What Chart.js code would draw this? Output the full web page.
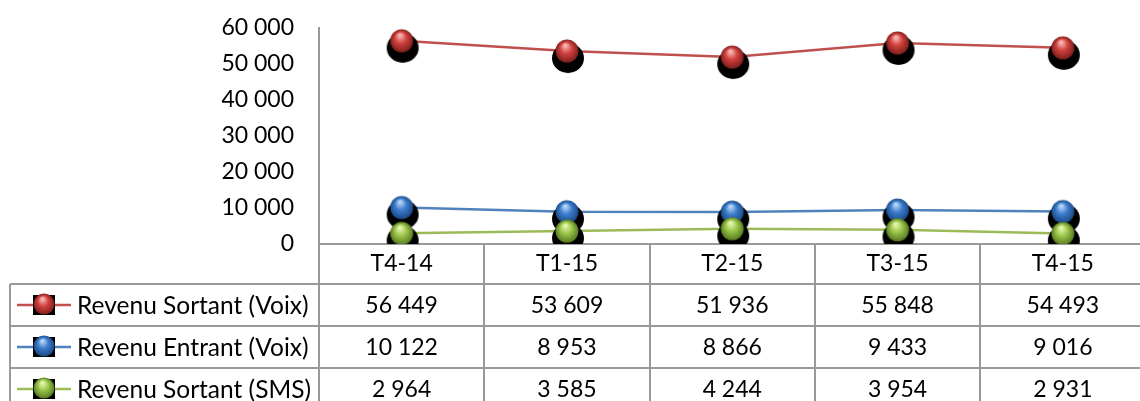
<!DOCTYPE html>
<html>
<head>
<meta charset="utf-8">
<script src="https://cdn.jsdelivr.net/npm/chart.js@4/dist/chart.umd.min.js"></script>
<style>
    html, body { margin: 0; padding: 0; background: #fff; overflow: hidden; }
    #wrap { width: 1140px; height: 401px; overflow: hidden; }
</style>
</head>
<body>
<div id="wrap"><canvas id="chart" width="1160" height="401"></canvas></div>
<script>
const categories = ['T4-14', 'T1-15', 'T2-15', 'T3-15', 'T4-15'];
const sortantVoix = [56449, 53609, 51936, 55848, 54493];
const entrantVoix = [10122, 8953, 8866, 9433, 9016];
const sortantSms = [2964, 3585, 4244, 3954, 2931];
const seriesNames = ['Revenu Sortant (Voix)', 'Revenu Entrant (Voix)', 'Revenu Sortant (SMS)'];
const yTicks = [0, 10000, 20000, 30000, 40000, 50000, 60000];

const FONT = 'Lato';
const FONT_SIZE = 23;
const LABEL_SIZE = 24.5;
const GRID = '#999999';

const palette = [
    { line: '#C0504D', hi: '#f6b3b1', mid: '#d2423e', lo: '#7e1f1c' },
    { line: '#4F81BD', hi: '#b5d5f5', mid: '#3c7dcc', lo: '#1b4a86' },
    { line: '#9BBB59', hi: '#e3f5ae', mid: '#9cc64a', lo: '#587b22' }
];

function fmt(v) {
    return String(v).replace(/\B(?=(\d{3})+(?!\d))/g, ' ');
}

function drawSphere(ctx, cx, cy, r, c) {
    const g = ctx.createRadialGradient(cx - r * 0.15, cy - r * 0.5, r * 0.1, cx, cy, r);
    g.addColorStop(0, c.hi);
    g.addColorStop(0.45, c.mid);
    g.addColorStop(1, c.lo);
    ctx.fillStyle = g;
    ctx.beginPath();
    ctx.arc(cx, cy, r, 0, Math.PI * 2);
    ctx.fill();
}

// marker image: sphere centred, black blob shadow below it
function makeMarker(c) {
    const cv = document.createElement('canvas');
    cv.width = 44;
    cv.height = 60;
    const ctx = cv.getContext('2d');
    ctx.fillStyle = '#000';
    ctx.beginPath();
    ctx.ellipse(23, 37, 16, 15, 0, 0, Math.PI * 2);
    ctx.fill();
    drawSphere(ctx, 22, 30, 11.5, c);
    return cv;
}

const markers = palette.map(makeMarker);

const dataTable = {
    id: 'dataTable',
    afterDraw(chart) {
        const ctx = chart.ctx;
        const xs = chart.scales.x;
        const area = chart.chartArea;
        const colW = (xs.right - xs.left) / categories.length;
        const rows = [sortantVoix, entrantVoix, sortantSms];
        const top = area.bottom;
        const headerH = 40;
        const rowH = 42;
        const tableLeft = 10;
        const bottom = chart.height;

        ctx.save();
        ctx.strokeStyle = GRID;
        ctx.lineWidth = 2;

        // vertical column lines
        for (let i = 0; i <= categories.length; i++) {
            const x = Math.round(xs.left + i * colW);
            ctx.beginPath();
            ctx.moveTo(x, top);
            ctx.lineTo(x, bottom);
            ctx.stroke();
        }
        // row lines
        for (let r = 0; r <= rows.length; r++) {
            const y = Math.round(top + headerH + r * rowH);
            ctx.beginPath();
            ctx.moveTo(tableLeft, y);
            ctx.lineTo(chart.width, y);
            ctx.stroke();
        }
        ctx.beginPath();
        ctx.moveTo(tableLeft, top + headerH);
        ctx.lineTo(tableLeft, bottom);
        ctx.stroke();

        ctx.fillStyle = '#000';
        ctx.textBaseline = 'middle';

        rows.forEach((vals, r) => {
            const cy = top + headerH + r * rowH + rowH / 2;
            const c = palette[r];
            // legend key
            ctx.strokeStyle = c.line;
            ctx.lineWidth = 2.5;
            ctx.beginPath();
            ctx.moveTo(17, cy);
            ctx.lineTo(71, cy);
            ctx.stroke();
            ctx.fillStyle = '#000';
            ctx.fillRect(33, cy - 10, 22, 20);
            drawSphere(ctx, 44, cy - 1, 10.5, c);

            ctx.fillStyle = '#000';
            ctx.textAlign = 'left';
            ctx.font = LABEL_SIZE + 'px ' + FONT;
            ctx.fillText(seriesNames[r], 77, cy + 1);
            ctx.textAlign = 'center';
            ctx.font = FONT_SIZE + 'px ' + FONT;
            vals.forEach((v, i) => {
                ctx.fillText(fmt(v), xs.getPixelForValue(i), cy + 1);
            });
        });
        ctx.restore();
    }
};

const seriesData = [sortantVoix, entrantVoix, sortantSms];

new Chart(document.getElementById('chart'), {
    type: 'line',
    data: {
        labels: categories,
        datasets: seriesData.map((d, i) => ({
            label: seriesNames[i],
            data: d,
            borderColor: palette[i].line,
            borderWidth: 2.5,
            pointStyle: markers[i],
            pointRadius: 12,
            pointHoverRadius: 12,
            order: 2 - i,
            tension: 0
        }))
    },
    options: {
        responsive: false,
        animation: false,
        events: [],
        layout: { padding: { top: 28, right: 6, left: 0, bottom: 0 } },
        plugins: {
            legend: { display: false },
            tooltip: { enabled: false }
        },
        scales: {
            x: {
                offset: true,
                grid: { display: false, drawTicks: false },
                border: { display: true, color: GRID, width: 2 },
                ticks: {
                    color: '#000',
                    font: { family: FONT, size: FONT_SIZE },
                    padding: 6,
                    maxRotation: 0
                },
                afterFit(scale) { scale.height = 157; }
            },
            y: {
                min: 0,
                max: 60000,
                // tick marks are hidden with the grid, their length just spaces the labels
                grid: { display: false, drawTicks: true, tickLength: 25 },
                border: { display: true, color: GRID, width: 2 },
                afterBuildTicks(scale) {
                    scale.ticks = yTicks.map(v => ({ value: v }));
                },
                ticks: {
                    color: '#000',
                    font: { family: FONT, size: FONT_SIZE },
                    padding: 0,
                    callback: v => fmt(v)
                },
                afterFit(scale) { scale.width = 319; }
            }
        }
    },
    plugins: [dataTable]
});
</script>
</body>
</html>
